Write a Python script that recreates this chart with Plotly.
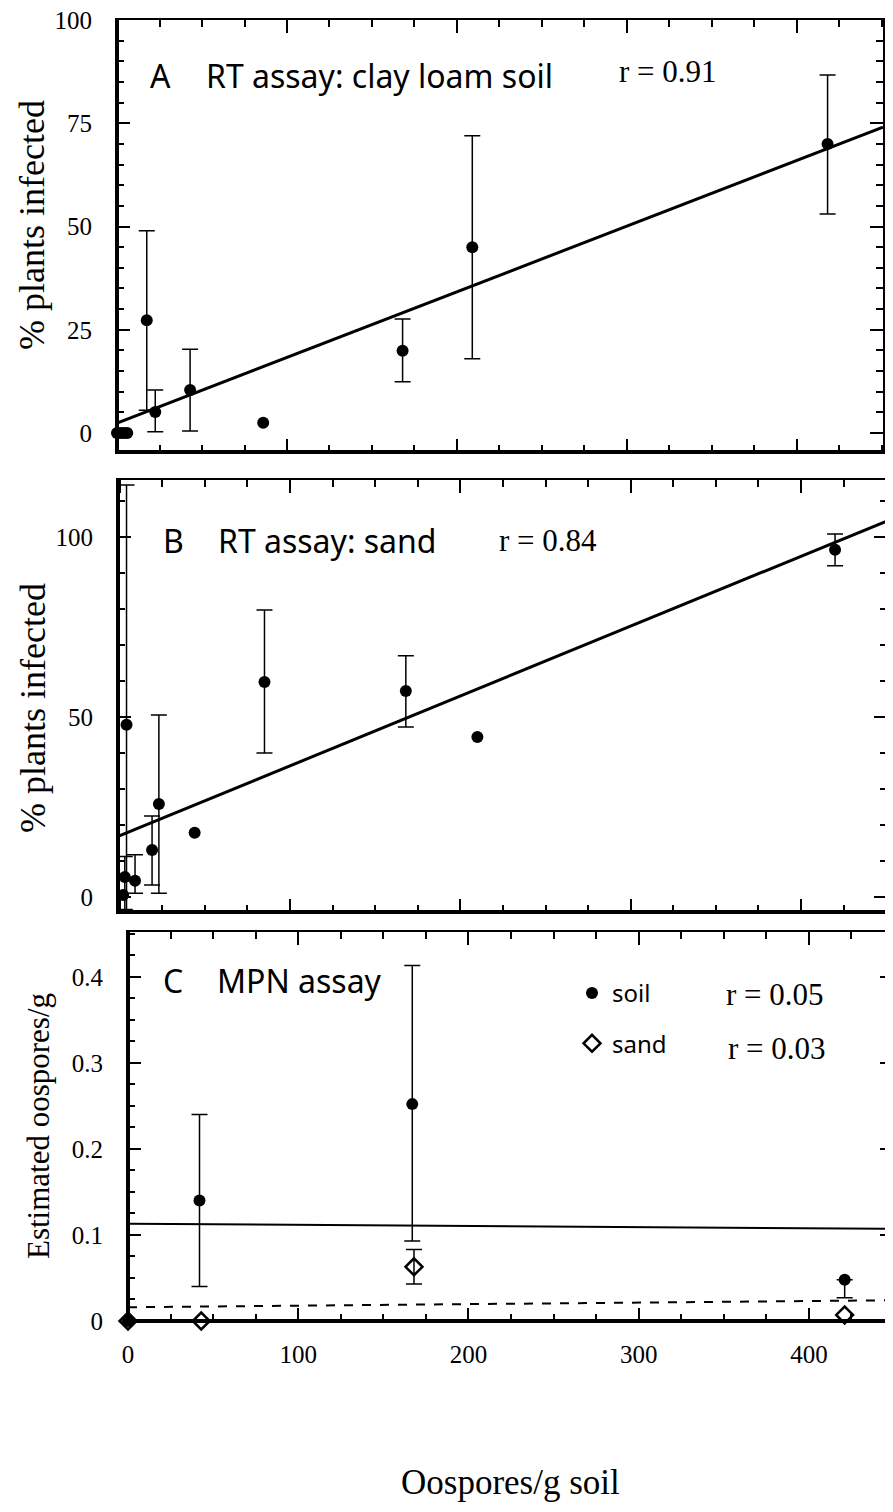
import plotly.graph_objects as go

W, H = 893, 1512
OFF = 8  # the page body adds an 8 px margin around the figure
FW, FH = W - OFF, H - 2 * OFF

# ---- panel A : RT assay, clay loam soil ----
a_x = [0, 2, 4, 6, 17.5, 22.5, 43, 86, 168, 209, 418]
a_y = [0, 0, 0, 0, 27.3, 5.1, 10.4, 2.5, 19.9, 45, 70]
a_up = [None, None, None, None, 21.7, 5.3, 9.9, None, 7.7, 27, 16.7]
a_dn = [None, None, None, None, 21.8, 4.8, 9.9, None, 7.5, 27, 17]
a_fit = (2.4, 0.159)  # intercept, slope

# ---- panel B : RT assay, sand ----
b_x = [2, 3, 9, 4, 19, 23, 44, 85, 168, 210, 420]
b_y = [0.5, 5.5, 4.5, 47.8, 13, 25.8, 17.8, 59.7, 57.2, 44.4, 96.4]
b_up = [None, 5.7, 7.2, 66.6, 9.5, 24.7, None, 20, 9.8, None, 4.4]
b_dn = [None, 9, 3.5, 66.6, 9.7, 24.8, None, 19.7, 10, None, 4.4]
b_fit = (17, 0.194)

# ---- panel C : MPN assay ----
soil_x = [0, 42, 167, 421]
soil_y = [0, 0.14, 0.252, 0.048]
soil_up = [None, 0.10, 0.161, 0.0]
soil_dn = [None, 0.10, 0.159, 0.021]
sand_x = [0, 43, 168, 421]
sand_y = [0, 0, 0.063, 0.007]
sand_up = [None, None, 0.02, None]
sand_dn = [None, None, 0.02, None]
soil_fit = (0.113, -0.000013)
sand_fit = (0.016, 0.000018)

SERIF = "Liberation Serif"
SANS = "Noto Sans"


def px(x):
    return (x - OFF) / FW


def py(y):
    return 1 - (y - OFF) / FH


def points(xs, ys, up, dn, xa, ya, symbol="circle", name=None, legend=False):
    out = []
    ie = [i for i in range(len(xs)) if up[i] is not None]
    ino = [i for i in range(len(xs)) if up[i] is None]
    mk = dict(symbol=symbol, size=12, color="black")
    if symbol == "diamond-open":
        mk = dict(symbol=symbol, size=13, color="black", line=dict(width=2.5, color="black"))
    if ino:
        out.append(go.Scatter(x=[xs[i] for i in ino], y=[ys[i] for i in ino], mode="markers",
                              marker=mk, xaxis=xa, yaxis=ya, showlegend=False, cliponaxis=False))
    if ie:
        out.append(go.Scatter(
            x=[xs[i] for i in ie], y=[ys[i] for i in ie], mode="markers", marker=mk,
            error_y=dict(type="data", symmetric=False, array=[up[i] for i in ie],
                         arrayminus=[dn[i] for i in ie], color="black", thickness=1.5, width=8),
            xaxis=xa, yaxis=ya, name=name, showlegend=legend, legendgroup=name))
    return out


def fit_line(fit, xr, xa, ya, dash="solid", width=3):
    b0, b1 = fit
    return go.Scatter(x=[xr[0], xr[1]], y=[b0 + b1 * xr[0], b0 + b1 * xr[1]], mode="lines",
                      line=dict(color="black", width=width, dash=dash),
                      xaxis=xa, yaxis=ya, showlegend=False, hoverinfo="skip")


fig = go.Figure()
xrA, xrB, xrC = [0, 450.6], [-1, 450.5], [0, 449.4]

for t in points(a_x, a_y, a_up, a_dn, "x", "y"):
    fig.add_trace(t)
fig.add_trace(fit_line(a_fit, xrA, "x", "y"))

for t in points(b_x, b_y, b_up, b_dn, "x2", "y2"):
    fig.add_trace(t)
fig.add_trace(fit_line(b_fit, xrB, "x2", "y2"))

fig.add_trace(fit_line(soil_fit, xrC, "x3", "y3", width=2))
fig.add_trace(fit_line(sand_fit, xrC, "x3", "y3", dash="dash", width=2))
for t in points(soil_x, soil_y, soil_up, soil_dn, "x3", "y3", name="soil", legend=True):
    fig.add_trace(t)
for t in points(sand_x, sand_y, sand_up, sand_dn, "x3", "y3", symbol="diamond-open",
                name="sand", legend=True):
    fig.add_trace(t)


def axis(rng, dom, anchor, dtick, minor, labels=False, standoff=18):
    return dict(range=rng, domain=dom, anchor=anchor, automargin=False, showline=True,
                linecolor="black", linewidth=2, mirror="allticks", ticks="inside", ticklen=13,
                tickwidth=2, tickcolor="black", tick0=0, dtick=dtick,
                minor=dict(dtick=minor, ticks="inside", ticklen=7, tickwidth=2, tickcolor="black"),
                showgrid=False, zeroline=False, showticklabels=labels,
                ticklabeloverflow="allow",
                tickfont=dict(family=SERIF, size=25, color="black"), ticklabelstandoff=standoff)


fig.update_layout(
    width=FW, height=FH, margin=dict(l=0, r=0, t=0, b=0, autoexpand=False),
    plot_bgcolor="white", paper_bgcolor="white",
    xaxis=axis(xrA, [px(117), px(883)], "y", 100, 25),
    yaxis=axis([-4.6, 100], [py(452), py(20)], "x", 25, 5, True),
    xaxis2=axis(xrB, [px(118), px(887)], "y2", 100, 25),
    yaxis2=axis([-4.2, 115.8], [py(912), py(480)], "x2", 50, 10, True),
    xaxis3=axis(xrC, [px(128), 1], "y3", 100, 25, True, standoff=10),
    yaxis3=axis([0, 0.452], [py(1321), py(932)], "x3", 0.1, 0.025, True),
    legend=dict(x=px(572), y=py(971), xanchor="left", yanchor="top",
                font=dict(family=SANS, size=24, color="black"), bgcolor="rgba(0,0,0,0)",
                traceorder="grouped", tracegroupgap=16),
)

# thicker left / bottom spines
for xa, ya in [("x", "y"), ("x2", "y2"), ("x3", "y3")]:
    fig.add_shape(type="line", xref=xa + " domain", yref=ya + " domain", x0=0, x1=0, y0=0, y1=1,
                  line=dict(color="black", width=4))
    fig.add_shape(type="line", xref=xa + " domain", yref=ya + " domain", x0=0, x1=1, y0=0, y1=0,
                  line=dict(color="black", width=4))


def note(text, x, y, size, family, angle=0, anchor="left"):
    fig.add_annotation(text=text, x=px(x), y=py(y), xref="paper", yref="paper", showarrow=False,
                       xanchor=anchor, yanchor="middle", textangle=angle,
                       font=dict(family=family, size=size, color="black"))


note("A", 148, 76, 32, SANS)
note("RT assay: clay loam soil", 204, 76, 32, SANS)
note("r = 0.91", 617, 72, 31, SERIF)
note("B", 161, 541, 32, SANS)
note("RT assay: sand", 216, 541, 32, SANS)
note("r = 0.84", 497, 541, 31, SERIF)
note("C", 161, 980, 32, SANS)
note("MPN assay", 215, 980, 32, SANS)
note("r = 0.05", 724, 994, 31, SERIF)
note("r = 0.03", 726, 1048, 31, SERIF)

note("% plants infected", 32, 225, 36, SERIF, -90, "center")
note("% plants infected", 33, 708, 36, SERIF, -90, "center")
note("Estimated oospores/g", 38, 1126, 31, SERIF, -90, "center")
note("Oospores/g soil", 510, 1482, 35, SERIF, 0, "center")

fig.write_html("out.html")
